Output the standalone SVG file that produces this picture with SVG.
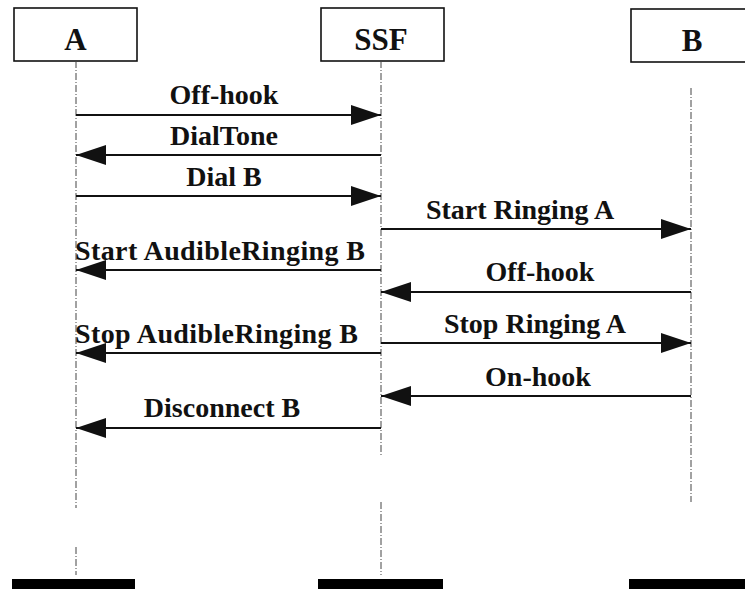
<svg xmlns="http://www.w3.org/2000/svg" width="745" height="589" viewBox="0 0 745 589">
  <defs>
    <marker id="arrow" markerUnits="userSpaceOnUse" markerWidth="30" markerHeight="20" refX="30" refY="10" orient="auto">
      <path d="M0,0 L30,10 L0,20 Z" fill="#111"/>
    </marker>
    <style>
      .box { fill: #fff; stroke: #111; stroke-width: 1.6; }
      .name { font-family: "Liberation Serif", "Times New Roman", serif; font-weight: bold; font-size: 31px; fill: #111; text-anchor: middle; }
      .life { stroke: #444; stroke-width: 1; stroke-dasharray: 7 2 1 2; fill: none; }
      .bar { fill: #000; }
      .msg { stroke: #111; stroke-width: 2; fill: none; marker-end: url(#arrow); }
      .lbl { font-family: "Liberation Serif", "Times New Roman", serif; font-weight: bold; font-size: 28px; fill: #111; text-anchor: middle; }
      .lbl-start { text-anchor: start; }
    </style>
  </defs>
  <rect width="745" height="589" fill="#fff"/>

  <!-- participant A -->
  <g id="node-A">
    <rect class="box" x="14" y="8" width="123" height="53"/>
    <text class="name" x="75.5" y="50">A</text>
    <path class="life" d="M76,61 V508 M76,547 V575"/>
    <rect class="bar" x="12" y="579" width="123" height="10"/>
  </g>

  <!-- participant SSF -->
  <g id="node-SSF">
    <rect class="box" x="321" y="8" width="123" height="53"/>
    <text class="name" x="381" y="50">SSF</text>
    <path class="life" d="M381,61 V456 M381,502 V575"/>
    <rect class="bar" x="318" y="579" width="125" height="10"/>
  </g>

  <!-- participant B -->
  <g id="node-B">
    <rect class="box" x="631" y="9" width="130" height="53"/>
    <text class="name" x="692" y="51">B</text>
    <path class="life" d="M691,88 V502"/>
    <rect class="bar" x="629" y="579" width="116" height="10"/>
  </g>

  <!-- messages -->
  <g id="connectors">
    <line class="msg" x1="76" y1="115" x2="381" y2="115"/>
    <line class="msg" x1="381" y1="155" x2="76" y2="155"/>
    <line class="msg" x1="76" y1="196" x2="381" y2="196"/>
    <line class="msg" x1="381" y1="229" x2="691" y2="229"/>
    <line class="msg" x1="381" y1="270" x2="76" y2="270"/>
    <line class="msg" x1="691" y1="292" x2="381" y2="292"/>
    <line class="msg" x1="381" y1="343" x2="691" y2="343"/>
    <line class="msg" x1="381" y1="353" x2="76" y2="353"/>
    <line class="msg" x1="691" y1="396" x2="381" y2="396"/>
    <line class="msg" x1="381" y1="428" x2="76" y2="428"/>
  </g>

  <!-- message labels -->
  <g id="labels">
    <text class="lbl" x="224" y="104">Off-hook</text>
    <text class="lbl" x="224" y="145">DialTone</text>
    <text class="lbl" x="224" y="186">Dial B</text>
    <text class="lbl" x="520" y="219">Start Ringing A</text>
    <text class="lbl lbl-start" x="75" y="260" textLength="290">Start AudibleRinging B</text>
    <text class="lbl" x="540" y="281">Off-hook</text>
    <text class="lbl" x="535" y="333">Stop Ringing A</text>
    <text class="lbl lbl-start" x="75" y="343" textLength="283">Stop AudibleRinging B</text>
    <text class="lbl" x="538" y="386">On-hook</text>
    <text class="lbl" x="222" y="417">Disconnect B</text>
  </g>
</svg>
